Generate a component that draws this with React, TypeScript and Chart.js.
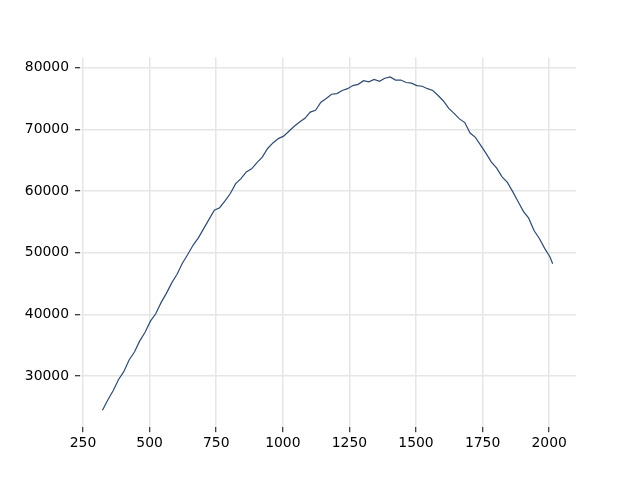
import React, { useEffect, useRef } from 'react';
import { Chart, registerables } from 'chart.js';

Chart.register(...registerables);

const X_VALUES = [
  323, 343, 363, 383, 403, 423, 443, 463, 483, 503,
  523, 543, 563, 583, 603, 623, 643, 663, 683, 703,
  723, 743, 763, 783, 803, 823, 843, 863, 883, 903,
  923, 943, 963, 983, 1003, 1023, 1043, 1063, 1083, 1103,
  1123, 1143, 1163, 1183, 1203, 1223, 1243, 1263, 1283, 1303,
  1323, 1343, 1363, 1383, 1403, 1423, 1443, 1463, 1483, 1503,
  1523, 1543, 1563, 1583, 1603, 1623, 1643, 1663, 1683, 1703,
  1723, 1743, 1763, 1783, 1803, 1823, 1843, 1863, 1883, 1903,
  1923, 1943, 1963, 1983, 2003, 2013,
];

const Y_VALUES = [
  24450, 26100, 27600, 29400, 30700, 32600, 33900, 35700, 37100, 38900,
  40100, 41900, 43400, 45100, 46500, 48300, 49700, 51200, 52400, 53900,
  55400, 56900, 57300, 58400, 59600, 61200, 62000, 63100, 63600, 64600,
  65500, 66900, 67800, 68500, 68900, 69700, 70500, 71200, 71800, 72800,
  73100, 74400, 75000, 75700, 75800, 76300, 76600, 77100, 77300, 77900,
  77700, 78100, 77800, 78300, 78500, 78000, 78000, 77600, 77500, 77100,
  77000, 76600, 76300, 75500, 74600, 73400, 72600, 71700, 71100, 69400,
  68700, 67400, 66100, 64700, 63700, 62300, 61400, 59900, 58300, 56700,
  55600, 53600, 52300, 50700, 49300, 48200,
];

const X_TICKS = [250, 500, 750, 1000, 1250, 1500, 1750, 2000];
const Y_TICKS = [30000, 40000, 50000, 60000, 70000, 80000];

const X_MIN = 238.7;
const X_MAX = 2100.6;
const Y_MIN = 21700;
const Y_MAX = 81640;

export default function App() {
  const canvasRef = useRef<HTMLCanvasElement | null>(null);

  useEffect(() => {
    const canvas = canvasRef.current;
    if (!canvas) return;
    const font = { family: 'DejaVu Sans', size: 13.9 };
    const grid = {
      color: '#e6e6e6',
      lineWidth: 1.5,
      tickColor: '#000',
      tickLength: 5,
      tickWidth: 1,
    };
    const chart = new Chart(canvas, {
      type: 'line',
      data: {
        datasets: [
          {
            data: X_VALUES.map((x, i) => ({ x, y: Y_VALUES[i] })),
            borderColor: '#2f4b70',
            borderWidth: 1.2,
            pointRadius: 0,
            tension: 0,
            fill: false,
          },
        ],
      },
      options: {
        animation: false,
        responsive: false,
        maintainAspectRatio: false,
        layout: { padding: { top: 57.6, right: 64, left: 0, bottom: 0 } },
        plugins: { legend: { display: false }, tooltip: { enabled: false } },
        scales: {
          x: {
            type: 'linear',
            min: X_MIN,
            max: X_MAX,
            afterBuildTicks: (scale: any) => {
              scale.ticks = X_TICKS.map((v) => ({ value: v }));
            },
            afterFit: (scale: any) => {
              scale.height = 52.8;
            },
            border: { display: false },
            grid,
            ticks: {
              color: '#000',
              font,
              padding: 3,
              maxRotation: 0,
              autoSkip: false,
              callback: (v: any) => String(v),
            },
          },
          y: {
            type: 'linear',
            min: Y_MIN,
            max: Y_MAX,
            afterBuildTicks: (scale: any) => {
              scale.ticks = Y_TICKS.map((v) => ({ value: v }));
            },
            afterFit: (scale: any) => {
              scale.width = 80;
            },
            border: { display: false },
            grid,
            ticks: {
              color: '#000',
              font,
              padding: 6,
              autoSkip: false,
              callback: (v: any) => String(v),
            },
          },
        },
      },
    });
    return () => chart.destroy();
  }, []);

  return (
    <div style={{ position: 'absolute', left: 0, top: 0, width: 640, height: 480, background: '#fff' }}>
      <canvas ref={canvasRef} width={640} height={480} style={{ display: 'block' }} />
    </div>
  );
}
